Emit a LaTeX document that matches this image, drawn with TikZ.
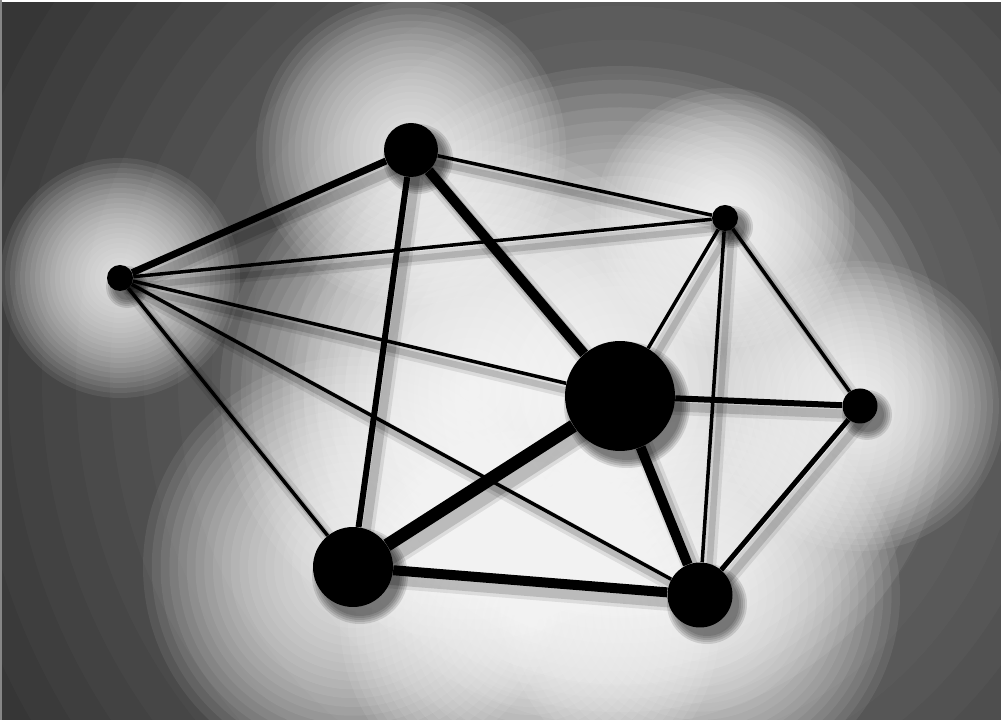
\documentclass[tikz,border=0pt]{standalone}
\usetikzlibrary{backgrounds}
\definecolor{wallgray}{HTML}{363636}

\begin{document}
\begin{tikzpicture}[
  x=0.02cm, y=0.02cm,
  hub/.style={circle,fill=black,inner sep=0pt},
  link/.style={black,line width=#1*0.2mm},
  linkshadow/.style={black,opacity=.09,line width=#1*0.2mm+10*0.2mm},
  linkcore/.style={black,opacity=.15,line width=#1*0.2mm+3*0.2mm},
  glowring/.style={white,opacity=.075},
  hazering/.style={white,opacity=.024},
  hubshadow/.style={black,opacity=.12}
]
  \useasboundingbox (0,0) rectangle (1001,720);
  % nodes
  \node[hub,minimum size=0.52cm] (A) at (120,442) {};
  \node[hub,minimum size=1.08cm] (B) at (411,570) {};
  \node[hub,minimum size=0.52cm] (C) at (725,502) {};
  \node[hub,minimum size=2.2cm]  (D) at (620,324) {};
  \node[hub,minimum size=0.7cm]  (E) at (860,314) {};
  \node[hub,minimum size=1.6cm]  (F) at (353,153) {};
  \node[hub,minimum size=1.3cm]  (G) at (700,125) {};
  % links
  \foreach \a/\b/\w in {A/B/7,A/C/3.5,A/D/3.5,A/G/3.5,A/F/3.5,B/C/3.5,B/D/10,B/F/6,
      C/D/3.5,C/G/3.5,C/E/3.5,D/E/6,D/F/13,D/G/10,E/G/5,F/G/10}
    \draw[link=\w] (\a) -- (\b);
  \begin{scope}[on background layer]
    \clip (0,0) rectangle (1001,720);
    \fill[wallgray] (0,0) rectangle (1001,720);
    % haze and glows
    \foreach \i in {1,...,20}
      \fill[hazering] (620,340) circle ({680*\i/20});
    \foreach \n/\r in {A/120,B/155,C/130,E/145,F/210,G/200,D/330}
      \foreach \i in {1,...,24}
        \fill[glowring] (\n) circle ({\r*\i/24});
    \foreach \i in {1,...,24}
      \fill[glowring] (470,330) circle ({250*\i/24});
    \foreach \i in {1,...,24}
      \fill[glowring] (530,100) circle ({190*\i/24});
    % shadows
    \begin{scope}[transform canvas={shift={(7,-9)}}]
      \foreach \a/\b/\w in {A/B/7,A/C/3.5,A/D/3.5,A/G/3.5,A/F/3.5,B/C/3.5,B/D/10,B/F/6,
          C/D/3.5,C/G/3.5,C/E/3.5,D/E/6,D/F/13,D/G/10,E/G/5,F/G/10}
      {
        \draw[linkshadow=\w] (\a.center) -- (\b.center);
        \draw[linkcore=\w] (\a.center) -- (\b.center);
      }
      \foreach \n/\r in {A/13,B/27,C/13,D/55,E/17,F/40,G/32}
        \foreach \k in {0,...,4}
          \fill[hubshadow] (\n) circle ({\r+2*\k});
    \end{scope}
    \draw[white,line width=1mm] (0,720) -- (1001,720);
    \draw[white!40!wallgray,line width=0.8mm] (0,0) -- (0,720);
  \end{scope}
\end{tikzpicture}
\end{document}
